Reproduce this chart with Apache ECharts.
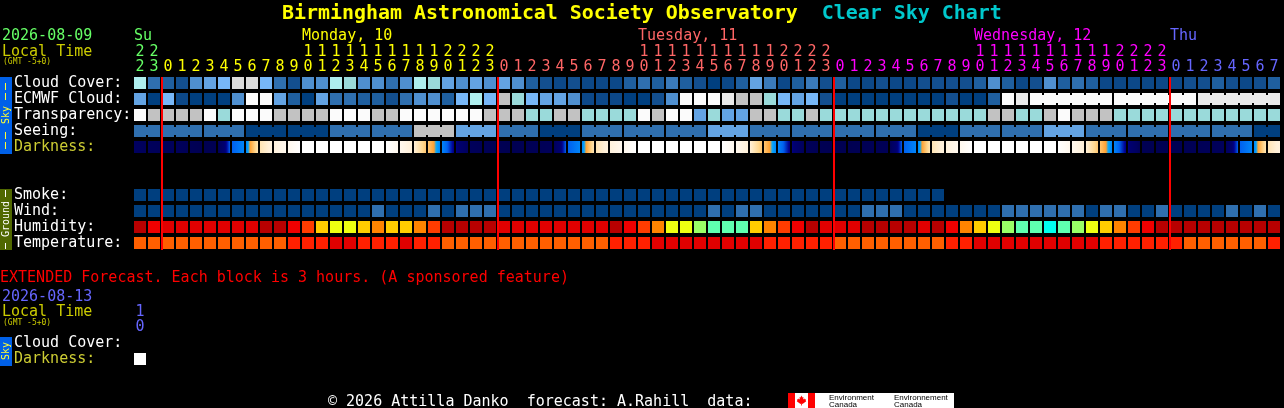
<!DOCTYPE html>
<html><head><meta charset="utf-8">
<style>html,body{margin:0;padding:0;background:#000}#c{width:1284px;height:408px}</style>
<script src="https://cdn.jsdelivr.net/npm/echarts@6/dist/echarts.min.js"></script>
</head><body><div id="c"></div>
<script>
const hours=['22','23','0','1','2','3','4','5','6','7','8','9','10','11','12','13','14','15','16','17','18','19','20','21','22','23',
'0','1','2','3','4','5','6','7','8','9','10','11','12','13','14','15','16','17','18','19','20','21','22','23',
'0','1','2','3','4','5','6','7','8','9','10','11','12','13','14','15','16','17','18','19','20','21','22','23',
'0','1','2','3','4','5','6','7'];
const skyRows=['Cloud Cover:','ECMWF Cloud:','Transparency:','Seeing:','Darkness:',' ','  ','Smoke:','Wind:','Humidity:','Temperature:'];
const midnightCols=[2,26,50,74];
const dayLabels=[['Su',0],['Monday, 10',12],['Tuesday, 11',36],['Wednesday, 12',60],['Thu',74]];
// colour levels, clear (0) to overcast (14)
const skyScale=['#003f7f','#0c4888','#134f8f','#1f5f9f','#2f6faf','#3a7aba','#4f8fcf','#63a3e3','#77b7f7','#9adada','#aeeeee','#c2c2c2','#dcdcdc','#eaeaea','#fbfbfb'];
const cloud=[10,4,3,2,6,7,8,12,12,8,4,2,6,6,10,9,6,6,4,6,10,9,7,6,7,6,7,6,3,2,1,2,1,1,1,3,4,3,5,3,2,0,1,3,7,5,1,3,5,2,3,1,1,2,1,1,2,2,2,2,3,6,3,1,2,6,3,4,3,1,1,1,1,1,1,2,2,3,2,1,2,3];
const ecmwf=[7,0,8,1,0,0,0,6,14,14,7,3,0,7,4,4,3,3,2,4,6,6,3,8,10,8,11,9,8,7,7,6,1,1,1,0,0,2,6,14,14,14,13,11,11,9,8,7,8,2,0,0,0,0,0,0,0,0,2,0,0,3,14,13,14,14,14,14,14,14,14,14,14,14,14,14,13,13,13,13,13,13];
const ecmwfBlocks=[64,6,6,6]; // first joined column, then joined block lengths
const transparency=[14,11,11,11,11,14,9,14,14,14,11,11,11,11,14,14,14,11,11,14,14,14,14,14,14,11,11,11,9,9,11,11,9,9,9,9,14,11,14,14,7,9,7,7,11,11,9,9,11,9,9,9,9,9,9,9,9,9,9,9,9,11,11,9,9,11,14,11,11,11,9,9,9,9,9,9,9,9,9,9,9,9];
const seeingBlockLengths=[2,3,3,3,3,3,3,3,3,3,3,3,3,3,3,3,3,3,3,3,3,3,3,3,3,3,3,2];
const seeingBlockLevels=[4,4,4,0,0,4,4,11,7,4,0,4,4,4,7,4,4,4,4,0,4,4,7,4,4,4,4,0];
const darknessEdges=[1,.8,.7,.8,.6,.4,.5,4,5,7.5,8.2,9,10,10,10,10,10,10,10,9,8,6.6,5,2.8,
.8,.6,.5,.4,.5,.6,.7,4,5,7.5,8.2,9,10,10,10,10,10,10,10,9,8,6.6,5,2.8,
.7,.5,.4,.4,.5,.6,.6,4,5,7.5,8.2,9,10,10,10,10,10,10,10,9,8,6.6,5,2.8,
.5,.4,.4,.5,.6,.7,.8,4,5,7.5,8.2];
const darknessRamp=[[0,'#000048'],[1,'#000060'],[2.5,'#000070'],[3,'#000090'],[4,'#0060ee'],[5,'#0085f8'],[5.5,'#00a8ff'],[5.8,'#ffa030'],[7,'#ffd890'],[8,'#fff0d8'],[9,'#fff8ee'],[10,'#ffffff']];
const smoke=[0,0,0,0,0,0,0,0,0,0,0,0,0,0,0,0,0,0,0,0,0,0,0,0,0,0,0,0,0,0,0,0,0,0,0,0,0,0,0,0,0,0,0,0,0,0,0,0,0,0,0,0,0,0,0,0,0,0];
const wind=[0,0,0,0,0,0,0,0,0,0,0,0,0,0,0,0,0,4,0,0,0,4,0,4,4,4,0,0,0,0,0,0,0,0,0,0,0,0,0,0,0,4,0,4,4,0,0,0,0,0,0,0,4,4,4,0,0,0,0,0,0,0,4,4,4,4,4,4,0,4,4,0,0,4,0,0,0,0,4,0,4,0];
const humidityScale=['#b80000','#e10000','#f00000','#ff3c00','#ff8400','#ffcc00','#eeff11','#99ff66','#5fffb0','#00ffee'];
const humidity=[0,2,1,1,1,1,1,1,1,0,0,2,3,5,6,6,5,4,5,5,4,3,0,0,0,0,1,1,1,1,1,1,1,1,0,2,3,4,6,6,7,8,8,8,5,4,3,2,0,1,1,1,0,0,0,0,1,0,2,4,5,6,7,8,8,9,8,7,6,5,4,3,2,0,0,0,0,0,0,0,0,0];
const tempScale=['#ff5f00','#ff2000','#e00000'];
const temperature=[0,0,0,0,0,0,0,0,0,0,0,1,1,1,2,2,1,1,1,2,1,1,0,0,0,0,0,0,0,0,0,0,0,0,1,1,1,2,2,2,2,2,2,2,2,1,1,1,1,1,0,0,0,0,0,0,0,0,1,1,2,2,2,2,2,2,2,2,2,1,1,1,1,1,1,0,0,0,0,0,0,1];
const extHours=['10'];
const extRows=['Cloud Cover:','Darkness:'];
const extDarkness=[10];
const MONO='"DejaVu Sans Mono",monospace';
const hourColors=['#66ff66','#ffff00','#ff6666','#ff00ff','#6666ff'];
const dayColor=i=>hourColors[midnightCols.filter(c=>i>=c).length];

function hex(c){return [1,3,5].map(k=>parseInt(c.substr(k,2),16));}
function rampColor(v){
  for(let k=1;k<darknessRamp.length;k++){
    if(v<=darknessRamp[k][0]){
      const a=darknessRamp[k-1],b=darknessRamp[k],t=(v-a[0])/(b[0]-a[0]);
      const A=hex(a[1]),B=hex(b[1]);
      return 'rgb('+A.map((x,n)=>Math.round(x+(B[n]-x)*t)).join(',')+')';
    }
  }
  return darknessRamp[darknessRamp.length-1][1];
}
function joined(start,lengths){ // set of columns linked to their right neighbour
  const s=new Set();let c=start;
  lengths.forEach(n=>{for(let k=0;k<n-1;k++)s.add(c+k);c+=n;});
  return s;
}
function cellSeries(name,row,values,scale,links,gridIdx){
  return {type:'custom',name,coordinateSystem:'cartesian2d',xAxisIndex:gridIdx||0,yAxisIndex:gridIdx||0,clip:false,silent:true,
    data:values.map((v,i)=>[i,row,v]),
    renderItem(p,api){
      const i=api.value(0),c=api.coord([i,row]),fill=scale[api.value(2)];
      const kids=[{type:'rect',shape:{x:c[0]-6,y:c[1]-6,width:12,height:12},style:{fill}}];
      if(links&&links.has(i))kids.push({type:'rect',shape:{x:c[0]+6,y:c[1]-4,width:2,height:8},style:{fill}});
      return {type:'group',children:kids};
    }};
}
function darknessSeries(name,row,edges,gridIdx){
  const vals=edges.slice(0,-1);
  return {type:'custom',name,coordinateSystem:'cartesian2d',xAxisIndex:gridIdx||0,yAxisIndex:gridIdx||0,clip:false,silent:true,
    data:vals.map((v,i)=>[i,row,v,edges[i+1]]),
    renderItem(p,api){
      const c=api.coord([api.value(0),row]),a=api.value(2),b=api.value(3);
      const stops=[];for(let k=0;k<=12;k++)stops.push({offset:k/12,color:rampColor(a+(b-a)*k/12)});
      return {type:'rect',shape:{x:c[0]-6,y:c[1]-6,width:12,height:12},
        style:{fill:new echarts.graphic.LinearGradient(0,0,1,0,stops)}};
    }};
}
// expand the seeing blocks into columns
const seeing=[];seeingBlockLengths.forEach((n,b)=>{for(let k=0;k<n;k++)seeing.push(seeingBlockLevels[b]);});

const txt=(text,x,y,fill,size,extra)=>({type:'text',x,y,silent:true,style:Object.assign({text,fill,font:(size||15)+'px '+MONO,verticalAlign:'middle'},extra||{})});
const rect=(x,y,width,height,fill)=>({type:'rect',silent:true,shape:{x,y,width,height},style:{fill}});
const vtxt=(text,x,y,fill)=>({type:'text',x,y,rotation:Math.PI/2,silent:true,style:{text,fill,font:'10px '+MONO,align:'center',verticalAlign:'middle'}});
const MAPLE=[[0,-5],[1,-3],[2,-3.6],[1.6,-1],[3,-2],[3.4,-1],[4.6,-1.2],[4.2,.4],[4.8,.8],[1,3.4],[.4,3],[.4,5],[-.4,5],[-.4,3],[-1,3.4],[-4.8,.8],[-4.2,.4],[-4.6,-1.2],[-3.4,-1],[-3,-2],[-1.6,-1],[-2,-3.6],[-1,-3]];

const graphics=[
  txt('2026-08-09',2,36,'#66ff66'),
  txt('Local Time',2,52,'#cccc00'),
  txt('(GMT -5+0)',3,62,'#cccc00',8),
  rect(0,77,12,77,'#0060e8'),
  rect(5,83,1,7,'#ffff33'),rect(5,93,1,7,'#ffff33'),
  vtxt('Sky',6,115,'#ffff33'),
  rect(5,132,1,7,'#ffff33'),rect(5,142,1,7,'#ffff33'),
  rect(0,189,12,61,'#506800'),
  rect(5,190,1,7,'#ffffff'),
  vtxt('Ground',6,219,'#ffffff'),
  rect(5,243,1,6,'#ffffff'),
  txt('EXTENDED Forecast. Each block is 3 hours. (A sponsored feature)',0,278,'#ff0000'),
  txt('2026-08-13',2,297,'#6666ff'),
  txt('Local Time',2,312,'#cccc00'),
  txt('(GMT -5+0)',3,323,'#cccc00',8),
  rect(0,337,12,29,'#0060e8'),
  vtxt('Sky',6,351,'#ffff33'),
  txt('\u00a9 2026 Attilla Danko  forecast: A.Rahill  data:',328,402,'#ffffff'),
  rect(788,393,166,15,'#ffffff'),
  rect(788,393,7,15,'#ff0000'),rect(808,393,7,15,'#ff0000'),
  {type:'polygon',silent:true,x:801.5,y:400.5,shape:{points:MAPLE},style:{fill:'#ff0000'}},
  txt('Environment',829,398,'#000000',8,{font:'8px "Liberation Sans",sans-serif'}),
  txt('Canada',829,405,'#000000',8,{font:'8px "Liberation Sans",sans-serif'}),
  txt('Environnement',894,398,'#000000',8,{font:'8px "Liberation Sans",sans-serif'}),
  txt('Canada',894,405,'#000000',8,{font:'8px "Liberation Sans",sans-serif'})
].concat(dayLabels.map(d=>txt(d[0],134+d[1]*14,36,dayColor(d[1]))));

const rowLabel=v=>v==='Darkness:'?'#cccc33':'#ffffff';
const chart=echarts.init(document.getElementById('c'),null,{renderer:'canvas',devicePixelRatio:1});
chart.setOption({
  backgroundColor:'#000',animation:false,tooltip:{show:false},
  title:{left:282,top:2,padding:0,text:'{a|Birmingham Astronomical Society Observatory}{b|  Clear Sky Chart}',
    textStyle:{rich:{a:{fontFamily:MONO,fontWeight:'bold',fontSize:19.93,color:'#ffff00',lineHeight:24},b:{fontFamily:MONO,fontWeight:'bold',fontSize:19.93,color:'#00c8cc',lineHeight:24}}}},
  grid:[{left:133,top:75,width:1148,height:176},{left:133,top:335,width:14,height:32}],
  xAxis:[
    {type:'category',gridIndex:0,position:'top',data:hours,axisLine:{show:false},axisTick:{show:false},splitLine:{show:false},
     axisLabel:{interval:0,margin:0,fontFamily:MONO,fontSize:15,lineHeight:15,hideOverlap:false,
       color:(v,i)=>dayColor(i),formatter:v=>v.split('').join('\n')}},
    {type:'category',gridIndex:1,position:'top',data:extHours,axisLine:{show:false},axisTick:{show:false},splitLine:{show:false},
     axisLabel:{interval:0,margin:0,fontFamily:MONO,fontSize:15,lineHeight:15,color:'#6666ff',formatter:v=>v.split('').join('\n')}}
  ],
  yAxis:[
    {type:'category',gridIndex:0,inverse:true,data:skyRows,axisLine:{show:false},axisTick:{show:false},splitLine:{show:false},
     axisLabel:{interval:0,align:'left',margin:119,padding:[0,0,3,0],fontFamily:MONO,fontSize:15,color:v=>rowLabel(v)}},
    {type:'category',gridIndex:1,inverse:true,data:extRows,axisLine:{show:false},axisTick:{show:false},splitLine:{show:false},
     axisLabel:{interval:0,align:'left',margin:119,padding:[0,0,3,0],fontFamily:MONO,fontSize:15,color:v=>rowLabel(v)}}
  ],
  series:[
    cellSeries('Cloud Cover',0,cloud,skyScale),
    cellSeries('ECMWF Cloud',1,ecmwf,skyScale,joined(ecmwfBlocks[0],ecmwfBlocks.slice(1))),
    cellSeries('Transparency',2,transparency,skyScale),
    cellSeries('Seeing',3,seeing,skyScale,joined(0,seeingBlockLengths)),
    darknessSeries('Darkness',4,darknessEdges),
    cellSeries('Smoke',7,smoke,skyScale),
    cellSeries('Wind',8,wind,skyScale),
    cellSeries('Humidity',9,humidity,humidityScale),
    cellSeries('Temperature',10,temperature,tempScale),
    {type:'custom',name:'Midnight',coordinateSystem:'cartesian2d',xAxisIndex:0,yAxisIndex:0,clip:false,silent:true,
     data:midnightCols.map(c=>[c,0]),
     renderItem(p,api){
       const c=api.coord([api.value(0),0]),e=api.coord([api.value(0),10]);
       return {type:'rect',shape:{x:c[0]-7,y:c[1]-6,width:2,height:e[1]+7-(c[1]-6)},style:{fill:'#ff0000'}};
     }},
    {type:'custom',name:'Extended Darkness',coordinateSystem:'cartesian2d',xAxisIndex:1,yAxisIndex:1,clip:false,silent:true,
     data:extDarkness.map((v,i)=>[i,1,v]),
     renderItem(p,api){
       const c=api.coord([api.value(0),1]);
       return {type:'rect',shape:{x:c[0]-6,y:c[1]-6,width:12,height:12},style:{fill:rampColor(api.value(2))}};
     }}
  ],
  graphic:{elements:graphics}
});
</script></body></html>
